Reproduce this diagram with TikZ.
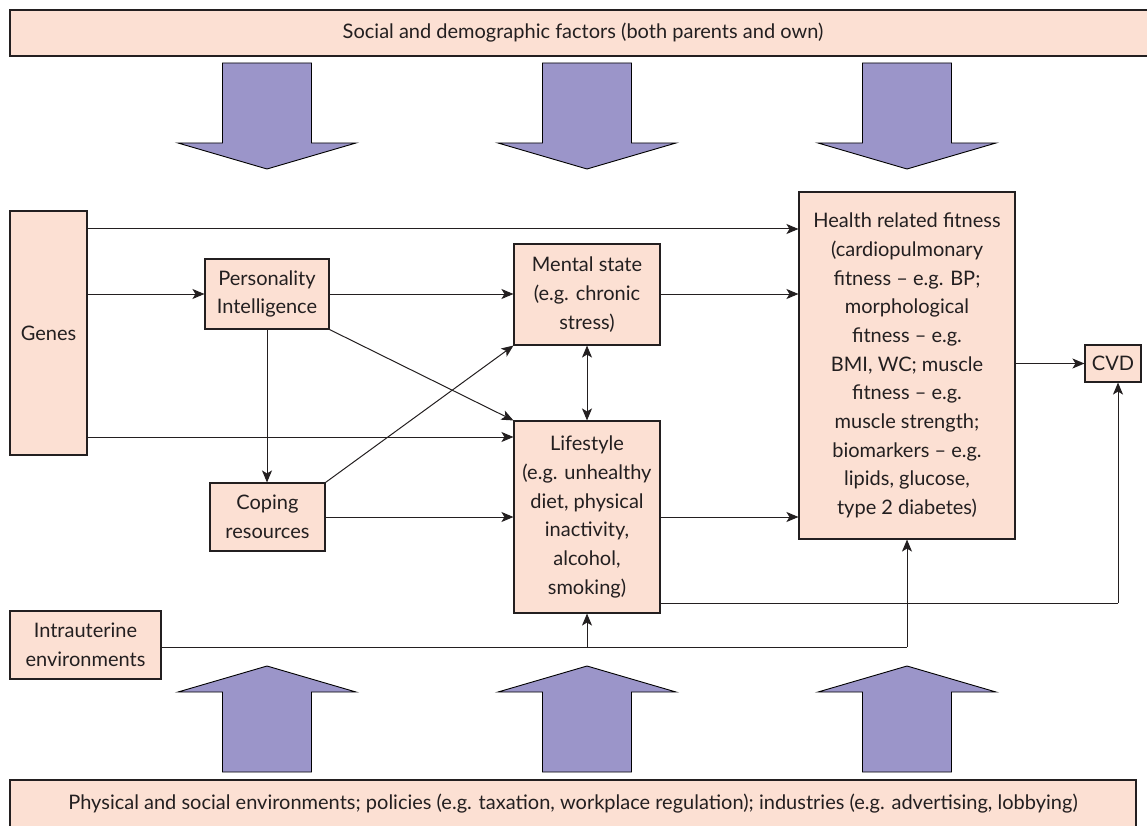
\documentclass[tikz,border=0pt]{standalone}
\usepackage{fontspec}
\setmainfont{Lato}
\usetikzlibrary{arrows.meta}
\definecolor{boxfill}{RGB}{252,224,211}
\definecolor{blockfill}{RGB}{155,149,201}
\definecolor{ink}{RGB}{35,31,32}
\begin{document}
\begin{tikzpicture}[x=1pt,y=-1pt,
  box/.style={draw=ink, fill=boxfill, line width=1.1pt, inner sep=0pt,
    align=center, text=ink, font=\fontsize{20}{28.7}\selectfont},
  tip/.style={Stealth[length=12pt,width=10pt,inset=3pt]},
  conn/.style={draw=ink, line width=1pt, -{Stealth[length=12pt,width=10pt,inset=3pt]}},
  biconn/.style={draw=ink, line width=1pt, {Stealth[length=12pt,width=10pt,inset=3pt]}-{Stealth[length=12pt,width=10pt,inset=3pt]}},
  plain/.style={draw=ink, line width=1pt},
  blockarrow/.style={fill=blockfill, draw=black, line width=0.9pt, line join=miter}]
\useasboundingbox (0,0) rectangle (1147,826);
\clip (0,0) rectangle (1147,826);

% outer influences
\node[box, minimum width=1146pt, minimum height=46pt] (social) at (583,33)
  {Social and demographic factors (both parents and own)};
\node[box, minimum width=1126pt, minimum height=48pt] (physical) at (573,804)
  {Physical and social environments; policies (e.g. taxation, workplace regulation); industries (e.g. advertising, lobbying)};

% block arrows from the outer influences
\foreach \cx in {267,587,907} {
  \draw[blockarrow] (\cx-44.5,63) -- (\cx+44.5,63) -- (\cx+44.5,143) -- (\cx+89,143)
    -- (\cx,169) -- (\cx-89,143) -- (\cx-44.5,143) -- cycle;
  \draw[blockarrow] (\cx-44.5,772) -- (\cx+44.5,772) -- (\cx+44.5,692) -- (\cx+89,692)
    -- (\cx,666) -- (\cx-89,692) -- (\cx-44.5,692) -- cycle;
}

% factors
\node[box, minimum width=77pt, minimum height=244pt] (genes) at (48.5,333) {Genes};
\node[box, minimum width=124pt, minimum height=70pt] (pers) at (267,294) {Personality\\Intelligence};
\node[box, minimum width=115pt, minimum height=68pt] (coping) at (267.5,517) {Coping\\resources};
\node[box, minimum width=146pt, minimum height=101pt] (mental) at (587,294.5) {Mental state\\(e.g. chronic\\stress)};
\node[box, minimum width=146pt, minimum height=192pt] (life) at (587,517)
  {Lifestyle\\(e.g. unhealthy\\diet, physical\\inactivity,\\alcohol,\\smoking)};
\node[box, minimum width=216pt, minimum height=347pt] (hrf) at (907,365.5)
  {Health related fitness\\(cardiopulmonary\\fitness – e.g. BP;\\morphological\\fitness – e.g.\\BMI, WC; muscle\\fitness – e.g.\\muscle strength;\\biomarkers – e.g.\\lipids, glucose,\\type 2 diabetes)};
\node[box, minimum width=56pt, minimum height=37pt] (cvd) at (1113,363.5) {CVD};
\node[box, minimum width=151pt, minimum height=68pt] (intra) at (85.5,645) {Intrauterine\\environments};

% helper levels for horizontal connectors
\coordinate (yA) at (0,229);
\coordinate (yB) at (0,294);
\coordinate (yC) at (0,437);
\coordinate (yD) at (0,517);
\coordinate (yE) at (0,603);
\coordinate (yF) at (0,647);
\coordinate (yG) at (0,363.5);
\coordinate (xCVD) at (1118,0);
\coordinate (lifeout) at (xCVD |- yE);
\coordinate (intraLife) at (life.south |- yF);
\coordinate (intraHrf) at (hrf.south |- yF);

% connectors
\draw[conn] (genes.east |- yA) -- (hrf.west |- yA);
\draw[conn] (genes.east |- yB) -- (pers.west |- yB);
\draw[conn] (genes.east |- yC) -- (life.west |- yC);
\draw[conn] (pers.east |- yB) -- (mental.west |- yB);
\draw[conn] (mental.east |- yB) -- (hrf.west |- yB);
\draw[conn] (pers.south) -- (coping.north -| pers.south);
\draw[conn] (pers.south east) -- (life.north west);
\draw[conn] (coping.north east) -- (mental.south west);
\draw[conn] (coping.east |- yD) -- (life.west |- yD);
\draw[biconn] (mental.south) -- (life.north);
\draw[conn] (life.east |- yD) -- (hrf.west |- yD);
\draw[conn] (hrf.east |- yG) -- (cvd.west |- yG);
\draw[plain] (life.east |- yE) -- (lifeout);
\draw[conn] (lifeout) -- (cvd.south -| xCVD);
\draw[plain] (intra.east |- yF) -- (intraHrf);
\draw[conn] (intraHrf) -- (hrf.south);
\draw[conn] (intraLife) -- (life.south);
\end{tikzpicture}
\end{document}
